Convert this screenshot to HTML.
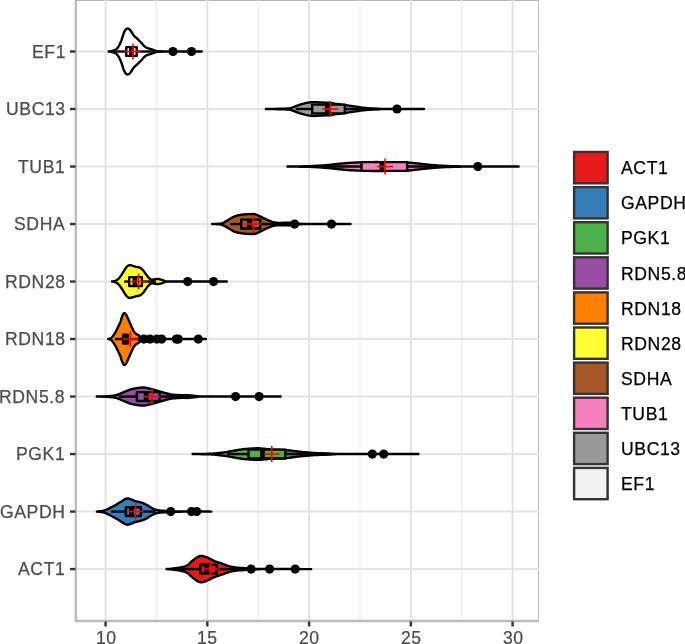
<!DOCTYPE html>
<html><head><meta charset="utf-8">
<style>
html,body{margin:0;padding:0;background:#fff;}
body{width:685px;height:644px;position:relative;overflow:hidden;font-family:"Liberation Sans",sans-serif;}
.yl,.xl,.ll{will-change:transform;-webkit-text-stroke:0.25px currentColor;}
.yl{position:absolute;right:619.4px;letter-spacing:0.6px;height:20px;line-height:20px;font-size:17.6px;color:#4D4D4D;white-space:nowrap;text-align:right;}
.xl{position:absolute;top:627.8px;letter-spacing:0.6px;text-indent:0.6px;width:60px;height:20px;line-height:20px;font-size:17.6px;color:#4D4D4D;text-align:center;}
.ll{position:absolute;left:620.6px;letter-spacing:0.6px;height:20px;line-height:20px;font-size:17.6px;color:#000;white-space:nowrap;}
</style></head><body>
<svg width="685" height="644" viewBox="0 0 685 644" style="position:absolute;left:0;top:0">
<line x1="76.0" y1="0.5" x2="539.0" y2="0.5" stroke="#B8B8B8" stroke-width="1"/>
<line x1="538.5" y1="0" x2="538.5" y2="620.8" stroke="#BDBDBD" stroke-width="1"/>
<line x1="156.47" y1="0.0" x2="156.47" y2="620.8" stroke="#EBEBEB" stroke-width="1.1"/>
<line x1="258.23" y1="0.0" x2="258.23" y2="620.8" stroke="#EBEBEB" stroke-width="1.1"/>
<line x1="359.98" y1="0.0" x2="359.98" y2="620.8" stroke="#EBEBEB" stroke-width="1.1"/>
<line x1="461.73" y1="0.0" x2="461.73" y2="620.8" stroke="#EBEBEB" stroke-width="1.1"/>
<line x1="105.60" y1="0.0" x2="105.60" y2="620.8" stroke="#E2E2E2" stroke-width="2"/>
<line x1="207.35" y1="0.0" x2="207.35" y2="620.8" stroke="#E2E2E2" stroke-width="2"/>
<line x1="309.10" y1="0.0" x2="309.10" y2="620.8" stroke="#E2E2E2" stroke-width="2"/>
<line x1="410.85" y1="0.0" x2="410.85" y2="620.8" stroke="#E2E2E2" stroke-width="2"/>
<line x1="512.60" y1="0.0" x2="512.60" y2="620.8" stroke="#E2E2E2" stroke-width="2"/>
<line x1="76.0" y1="51.50" x2="539.0" y2="51.50" stroke="#E3E3E3" stroke-width="2"/>
<line x1="76.0" y1="109.01" x2="539.0" y2="109.01" stroke="#E3E3E3" stroke-width="2"/>
<line x1="76.0" y1="166.52" x2="539.0" y2="166.52" stroke="#E3E3E3" stroke-width="2"/>
<line x1="76.0" y1="224.03" x2="539.0" y2="224.03" stroke="#E3E3E3" stroke-width="2"/>
<line x1="76.0" y1="281.54" x2="539.0" y2="281.54" stroke="#E3E3E3" stroke-width="2"/>
<line x1="76.0" y1="339.05" x2="539.0" y2="339.05" stroke="#E3E3E3" stroke-width="2"/>
<line x1="76.0" y1="396.56" x2="539.0" y2="396.56" stroke="#E3E3E3" stroke-width="2"/>
<line x1="76.0" y1="454.07" x2="539.0" y2="454.07" stroke="#E3E3E3" stroke-width="2"/>
<line x1="76.0" y1="511.58" x2="539.0" y2="511.58" stroke="#E3E3E3" stroke-width="2"/>
<line x1="76.0" y1="569.09" x2="539.0" y2="569.09" stroke="#E3E3E3" stroke-width="2"/>
<line x1="75.8" y1="0" x2="75.8" y2="622" stroke="#BABABA" stroke-width="2.3"/>
<line x1="74.7" y1="621" x2="539" y2="621" stroke="#BABABA" stroke-width="2.3"/>
<line x1="70" y1="51.50" x2="75.5" y2="51.50" stroke="#333333" stroke-width="2.4"/>
<line x1="70" y1="109.01" x2="75.5" y2="109.01" stroke="#333333" stroke-width="2.4"/>
<line x1="70" y1="166.52" x2="75.5" y2="166.52" stroke="#333333" stroke-width="2.4"/>
<line x1="70" y1="224.03" x2="75.5" y2="224.03" stroke="#333333" stroke-width="2.4"/>
<line x1="70" y1="281.54" x2="75.5" y2="281.54" stroke="#333333" stroke-width="2.4"/>
<line x1="70" y1="339.05" x2="75.5" y2="339.05" stroke="#333333" stroke-width="2.4"/>
<line x1="70" y1="396.56" x2="75.5" y2="396.56" stroke="#333333" stroke-width="2.4"/>
<line x1="70" y1="454.07" x2="75.5" y2="454.07" stroke="#333333" stroke-width="2.4"/>
<line x1="70" y1="511.58" x2="75.5" y2="511.58" stroke="#333333" stroke-width="2.4"/>
<line x1="70" y1="569.09" x2="75.5" y2="569.09" stroke="#333333" stroke-width="2.4"/>
<line x1="105.60" y1="621.5" x2="105.60" y2="626.5" stroke="#333333" stroke-width="2.4"/>
<line x1="207.35" y1="621.5" x2="207.35" y2="626.5" stroke="#333333" stroke-width="2.4"/>
<line x1="309.10" y1="621.5" x2="309.10" y2="626.5" stroke="#333333" stroke-width="2.4"/>
<line x1="410.85" y1="621.5" x2="410.85" y2="626.5" stroke="#333333" stroke-width="2.4"/>
<line x1="512.60" y1="621.5" x2="512.60" y2="626.5" stroke="#333333" stroke-width="2.4"/>
<path d="M108.60,51.50 L108.89,51.46 L109.27,51.41 L109.72,51.36 L110.23,51.29 L110.76,51.22 L111.30,51.13 L111.82,51.02 L112.30,50.90 L112.76,50.77 L113.23,50.62 L113.70,50.46 L114.17,50.29 L114.63,50.10 L115.07,49.89 L115.50,49.66 L115.90,49.40 L116.28,49.11 L116.63,48.81 L116.97,48.48 L117.29,48.13 L117.60,47.76 L117.90,47.36 L118.20,46.94 L118.50,46.50 L118.80,46.03 L119.09,45.52 L119.37,44.99 L119.65,44.44 L119.92,43.87 L120.19,43.28 L120.45,42.69 L120.70,42.10 L120.94,41.50 L121.18,40.87 L121.40,40.24 L121.63,39.59 L121.84,38.94 L122.06,38.29 L122.28,37.64 L122.50,37.00 L122.72,36.35 L122.95,35.67 L123.17,34.98 L123.39,34.30 L123.62,33.64 L123.84,33.01 L124.07,32.42 L124.30,31.90 L124.53,31.43 L124.77,31.01 L125.01,30.62 L125.25,30.27 L125.49,29.95 L125.73,29.67 L125.97,29.42 L126.20,29.20 L126.43,29.01 L126.65,28.85 L126.86,28.73 L127.08,28.64 L127.30,28.58 L127.52,28.55 L127.76,28.56 L128.00,28.60 L128.26,28.67 L128.52,28.79 L128.80,28.93 L129.07,29.11 L129.36,29.31 L129.64,29.55 L129.92,29.81 L130.20,30.10 L130.48,30.43 L130.76,30.82 L131.04,31.24 L131.32,31.69 L131.60,32.14 L131.88,32.59 L132.14,33.01 L132.40,33.40 L132.63,33.75 L132.84,34.06 L133.03,34.36 L133.21,34.65 L133.41,34.94 L133.63,35.24 L133.89,35.55 L134.20,35.90 L134.56,36.27 L134.97,36.66 L135.41,37.06 L135.88,37.48 L136.36,37.90 L136.85,38.33 L137.33,38.76 L137.80,39.20 L138.26,39.65 L138.74,40.11 L139.22,40.58 L139.69,41.05 L140.17,41.52 L140.63,41.99 L141.08,42.45 L141.50,42.90 L141.90,43.34 L142.28,43.79 L142.65,44.23 L143.00,44.67 L143.35,45.09 L143.69,45.49 L144.04,45.86 L144.40,46.20 L144.76,46.50 L145.11,46.77 L145.45,47.02 L145.80,47.24 L146.15,47.44 L146.52,47.63 L146.90,47.82 L147.30,48.00 L147.72,48.17 L148.16,48.32 L148.62,48.45 L149.08,48.58 L149.56,48.70 L150.04,48.82 L150.52,48.95 L151.00,49.10 L151.48,49.26 L151.96,49.44 L152.43,49.63 L152.92,49.82 L153.41,50.01 L153.92,50.19 L154.45,50.35 L155.00,50.50 L155.33,50.63 L155.32,50.76 L155.18,50.87 L155.14,50.98 L155.39,51.07 L156.14,51.16 L157.61,51.23 L160.00,51.30 L163.75,51.36 L168.84,51.40 L174.82,51.43 L181.21,51.45 L187.57,51.47 L193.43,51.48 L198.32,51.49 L201.80,51.50 L201.80,51.50 L198.32,51.51 L193.43,51.52 L187.57,51.53 L181.21,51.55 L174.82,51.57 L168.84,51.60 L163.75,51.64 L160.00,51.70 L157.61,51.77 L156.14,51.84 L155.39,51.93 L155.14,52.02 L155.18,52.13 L155.32,52.24 L155.33,52.37 L155.00,52.50 L154.45,52.65 L153.92,52.81 L153.41,52.99 L152.92,53.18 L152.43,53.37 L151.96,53.56 L151.48,53.74 L151.00,53.90 L150.52,54.05 L150.04,54.18 L149.56,54.30 L149.08,54.42 L148.62,54.55 L148.16,54.68 L147.72,54.83 L147.30,55.00 L146.90,55.18 L146.52,55.37 L146.15,55.56 L145.80,55.76 L145.45,55.98 L145.11,56.23 L144.76,56.50 L144.40,56.80 L144.04,57.14 L143.69,57.51 L143.35,57.91 L143.00,58.33 L142.65,58.77 L142.28,59.21 L141.90,59.66 L141.50,60.10 L141.08,60.55 L140.63,61.01 L140.17,61.48 L139.69,61.95 L139.22,62.42 L138.74,62.89 L138.26,63.35 L137.80,63.80 L137.33,64.24 L136.85,64.67 L136.36,65.10 L135.88,65.53 L135.41,65.94 L134.97,66.34 L134.56,66.73 L134.20,67.10 L133.89,67.45 L133.63,67.76 L133.41,68.06 L133.21,68.35 L133.03,68.64 L132.84,68.94 L132.63,69.25 L132.40,69.60 L132.14,69.99 L131.88,70.41 L131.60,70.86 L131.32,71.31 L131.04,71.76 L130.76,72.18 L130.48,72.57 L130.20,72.90 L129.92,73.19 L129.64,73.45 L129.36,73.69 L129.07,73.89 L128.80,74.07 L128.52,74.21 L128.26,74.33 L128.00,74.40 L127.76,74.44 L127.52,74.45 L127.30,74.42 L127.08,74.36 L126.86,74.27 L126.65,74.15 L126.43,73.99 L126.20,73.80 L125.97,73.58 L125.73,73.33 L125.49,73.05 L125.25,72.73 L125.01,72.38 L124.77,71.99 L124.53,71.57 L124.30,71.10 L124.07,70.58 L123.84,69.99 L123.62,69.36 L123.39,68.70 L123.17,68.02 L122.95,67.33 L122.72,66.65 L122.50,66.00 L122.28,65.36 L122.06,64.71 L121.84,64.06 L121.63,63.41 L121.40,62.76 L121.18,62.13 L120.94,61.50 L120.70,60.90 L120.45,60.31 L120.19,59.72 L119.92,59.13 L119.65,58.56 L119.37,58.01 L119.09,57.48 L118.80,56.97 L118.50,56.50 L118.20,56.06 L117.90,55.64 L117.60,55.24 L117.29,54.87 L116.97,54.52 L116.63,54.19 L116.28,53.89 L115.90,53.60 L115.50,53.34 L115.07,53.11 L114.63,52.90 L114.17,52.71 L113.70,52.54 L113.23,52.38 L112.76,52.23 L112.30,52.10 L111.82,51.98 L111.30,51.87 L110.76,51.78 L110.23,51.71 L109.72,51.64 L109.27,51.59 L108.89,51.54 L108.60,51.50 Z" fill="#FFFFFF" stroke="#000" stroke-width="2.4" stroke-linejoin="round"/>
<line x1="112" y1="51.50" x2="126.30" y2="51.50" stroke="#000" stroke-width="2.4"/>
<line x1="136.70" y1="51.50" x2="155" y2="51.50" stroke="#000" stroke-width="2.4"/>
<rect x="126.30" y="47.10" width="10.40" height="8.80" fill="#FFFFFF" stroke="#000" stroke-width="2.4" stroke-linejoin="round"/>
<line x1="131.40" y1="47.10" x2="131.40" y2="55.90" stroke="#000" stroke-width="4.8"/>
<circle cx="173.0" cy="51.50" r="4.6" fill="#000"/>
<circle cx="191.5" cy="51.50" r="4.6" fill="#000"/>
<line x1="124.90" y1="51.50" x2="140.90" y2="51.50" stroke="#FF0000" stroke-width="1.6"/>
<line x1="132.90" y1="43.50" x2="132.90" y2="59.50" stroke="#FF0000" stroke-width="1.6"/>
<path d="M265.90,109.01 L267.46,108.98 L269.64,108.95 L272.24,108.90 L275.07,108.85 L277.96,108.80 L280.70,108.74 L283.11,108.68 L285.00,108.61 L286.37,108.55 L287.39,108.50 L288.16,108.45 L288.74,108.40 L289.24,108.32 L289.72,108.23 L290.28,108.09 L291.00,107.91 L291.84,107.67 L292.71,107.38 L293.61,107.06 L294.52,106.70 L295.44,106.34 L296.36,105.98 L297.29,105.63 L298.20,105.31 L299.11,105.01 L300.02,104.70 L300.93,104.40 L301.84,104.11 L302.76,103.83 L303.67,103.57 L304.59,103.32 L305.50,103.11 L306.41,102.92 L307.32,102.75 L308.24,102.59 L309.15,102.45 L310.06,102.34 L310.98,102.24 L311.89,102.16 L312.80,102.11 L313.69,102.08 L314.56,102.09 L315.42,102.12 L316.29,102.17 L317.17,102.23 L318.09,102.29 L319.06,102.35 L320.10,102.41 L321.24,102.46 L322.48,102.51 L323.79,102.56 L325.13,102.62 L326.46,102.68 L327.74,102.75 L328.93,102.82 L330.00,102.91 L330.92,103.01 L331.71,103.12 L332.42,103.24 L333.08,103.37 L333.72,103.51 L334.40,103.64 L335.15,103.78 L336.00,103.91 L336.95,104.04 L337.97,104.17 L339.03,104.30 L340.13,104.43 L341.26,104.57 L342.41,104.71 L343.56,104.86 L344.70,105.01 L345.84,105.17 L346.99,105.34 L348.14,105.51 L349.31,105.68 L350.50,105.86 L351.71,106.05 L352.94,106.23 L354.20,106.41 L355.50,106.60 L356.85,106.80 L358.23,107.00 L359.62,107.20 L361.02,107.40 L362.41,107.59 L363.78,107.76 L365.10,107.91 L366.39,108.04 L367.67,108.15 L368.93,108.25 L370.17,108.33 L371.40,108.41 L372.61,108.48 L373.81,108.55 L375.00,108.61 L375.96,108.67 L376.59,108.72 L377.08,108.76 L377.62,108.80 L378.39,108.83 L379.59,108.86 L381.40,108.88 L384.00,108.91 L387.79,108.93 L392.76,108.95 L398.49,108.97 L404.56,108.98 L410.57,108.99 L416.09,109.00 L420.70,109.00 L424.00,109.01 L424.00,109.01 L420.70,109.02 L416.09,109.02 L410.57,109.03 L404.56,109.04 L398.49,109.05 L392.76,109.07 L387.79,109.09 L384.00,109.11 L381.40,109.14 L379.59,109.16 L378.39,109.19 L377.62,109.22 L377.08,109.26 L376.59,109.30 L375.96,109.35 L375.00,109.41 L373.81,109.47 L372.61,109.54 L371.40,109.61 L370.17,109.68 L368.93,109.77 L367.67,109.87 L366.39,109.98 L365.10,110.11 L363.78,110.26 L362.41,110.43 L361.02,110.62 L359.62,110.82 L358.23,111.02 L356.85,111.22 L355.50,111.42 L354.20,111.61 L352.94,111.79 L351.71,111.97 L350.50,112.16 L349.31,112.33 L348.14,112.51 L346.99,112.68 L345.84,112.85 L344.70,113.01 L343.56,113.16 L342.41,113.31 L341.26,113.45 L340.13,113.58 L339.03,113.72 L337.97,113.85 L336.95,113.98 L336.00,114.11 L335.15,114.24 L334.40,114.38 L333.72,114.51 L333.08,114.65 L332.42,114.78 L331.71,114.90 L330.92,115.01 L330.00,115.11 L328.93,115.20 L327.74,115.27 L326.46,115.34 L325.13,115.40 L323.79,115.46 L322.48,115.51 L321.24,115.56 L320.10,115.61 L319.06,115.67 L318.09,115.73 L317.17,115.79 L316.29,115.85 L315.42,115.90 L314.56,115.93 L313.69,115.94 L312.80,115.91 L311.89,115.86 L310.98,115.78 L310.06,115.68 L309.15,115.57 L308.24,115.43 L307.32,115.27 L306.41,115.10 L305.50,114.91 L304.59,114.70 L303.67,114.45 L302.76,114.19 L301.84,113.91 L300.93,113.62 L300.02,113.32 L299.11,113.01 L298.20,112.71 L297.29,112.39 L296.36,112.04 L295.44,111.68 L294.52,111.32 L293.61,110.96 L292.71,110.64 L291.84,110.35 L291.00,110.11 L290.28,109.93 L289.72,109.79 L289.24,109.70 L288.74,109.62 L288.16,109.57 L287.39,109.52 L286.37,109.47 L285.00,109.41 L283.11,109.34 L280.70,109.28 L277.96,109.22 L275.07,109.17 L272.24,109.12 L269.64,109.07 L267.46,109.04 L265.90,109.01 Z" fill="#999999" stroke="#000" stroke-width="2.4" stroke-linejoin="round"/>
<line x1="295.7" y1="109.01" x2="312.20" y2="109.01" stroke="#000" stroke-width="2.4"/>
<line x1="344.80" y1="109.01" x2="380" y2="109.01" stroke="#000" stroke-width="2.4"/>
<rect x="312.20" y="104.61" width="32.60" height="8.80" fill="#999999" stroke="#000" stroke-width="2.4" stroke-linejoin="round"/>
<line x1="327.30" y1="104.61" x2="327.30" y2="113.41" stroke="#000" stroke-width="4.8"/>
<circle cx="397.0" cy="109.01" r="4.6" fill="#000"/>
<line x1="322.40" y1="109.01" x2="338.40" y2="109.01" stroke="#FF0000" stroke-width="1.6"/>
<line x1="330.40" y1="101.01" x2="330.40" y2="117.01" stroke="#FF0000" stroke-width="1.6"/>
<path d="M287.40,166.52 L289.18,166.49 L291.58,166.46 L294.44,166.43 L297.61,166.39 L300.91,166.34 L304.18,166.28 L307.26,166.21 L310.00,166.12 L312.46,166.02 L314.84,165.90 L317.13,165.77 L319.34,165.63 L321.48,165.49 L323.55,165.33 L325.56,165.18 L327.50,165.02 L329.35,164.86 L331.08,164.68 L332.73,164.50 L334.32,164.31 L335.87,164.13 L337.42,163.95 L338.99,163.78 L340.60,163.62 L342.22,163.47 L343.82,163.33 L345.41,163.19 L347.01,163.06 L348.63,162.94 L350.29,162.83 L352.01,162.72 L353.80,162.62 L355.69,162.53 L357.67,162.45 L359.71,162.37 L361.79,162.31 L363.88,162.25 L365.96,162.20 L368.01,162.16 L370.00,162.12 L371.95,162.09 L373.88,162.08 L375.80,162.07 L377.70,162.07 L379.57,162.08 L381.42,162.09 L383.23,162.10 L385.00,162.12 L386.74,162.14 L388.46,162.18 L390.15,162.22 L391.81,162.26 L393.43,162.31 L395.01,162.35 L396.53,162.39 L398.00,162.42 L399.39,162.44 L400.71,162.44 L401.97,162.43 L403.19,162.43 L404.38,162.43 L405.57,162.44 L406.77,162.47 L408.00,162.52 L409.26,162.60 L410.52,162.71 L411.79,162.83 L413.06,162.96 L414.32,163.11 L415.57,163.25 L416.80,163.39 L418.00,163.52 L419.14,163.64 L420.20,163.77 L421.23,163.89 L422.25,164.01 L423.30,164.13 L424.42,164.26 L425.64,164.39 L427.00,164.52 L428.50,164.67 L430.12,164.82 L431.83,164.99 L433.61,165.15 L435.44,165.31 L437.29,165.46 L439.15,165.60 L441.00,165.72 L442.86,165.82 L444.77,165.90 L446.71,165.97 L448.67,166.03 L450.62,166.08 L452.56,166.13 L454.46,166.17 L456.30,166.22 L457.85,166.27 L459.02,166.32 L460.02,166.36 L461.07,166.40 L462.38,166.44 L464.16,166.47 L466.63,166.50 L470.00,166.52 L474.74,166.52 L480.84,166.52 L487.80,166.52 L495.16,166.52 L502.40,166.52 L509.05,166.52 L514.61,166.52 L518.60,166.52 L518.60,166.52 L514.61,166.52 L509.05,166.52 L502.40,166.52 L495.16,166.52 L487.80,166.52 L480.84,166.52 L474.74,166.52 L470.00,166.52 L466.63,166.54 L464.16,166.57 L462.38,166.60 L461.07,166.64 L460.02,166.68 L459.02,166.72 L457.85,166.77 L456.30,166.82 L454.46,166.87 L452.56,166.91 L450.62,166.96 L448.67,167.01 L446.71,167.07 L444.77,167.14 L442.86,167.22 L441.00,167.32 L439.15,167.44 L437.29,167.58 L435.44,167.73 L433.61,167.89 L431.83,168.05 L430.12,168.22 L428.50,168.37 L427.00,168.52 L425.64,168.65 L424.42,168.78 L423.30,168.91 L422.25,169.03 L421.23,169.15 L420.20,169.27 L419.14,169.40 L418.00,169.52 L416.80,169.65 L415.57,169.79 L414.32,169.93 L413.06,170.08 L411.79,170.21 L410.52,170.33 L409.26,170.44 L408.00,170.52 L406.77,170.57 L405.57,170.60 L404.38,170.61 L403.19,170.61 L401.97,170.61 L400.71,170.60 L399.39,170.60 L398.00,170.62 L396.53,170.65 L395.01,170.69 L393.43,170.73 L391.81,170.78 L390.15,170.82 L388.46,170.86 L386.74,170.90 L385.00,170.92 L383.23,170.94 L381.42,170.95 L379.57,170.96 L377.70,170.97 L375.80,170.97 L373.88,170.96 L371.95,170.95 L370.00,170.92 L368.01,170.88 L365.96,170.84 L363.88,170.79 L361.79,170.73 L359.71,170.67 L357.67,170.59 L355.69,170.51 L353.80,170.42 L352.01,170.32 L350.29,170.21 L348.63,170.10 L347.01,169.98 L345.41,169.85 L343.82,169.71 L342.22,169.57 L340.60,169.42 L338.99,169.26 L337.42,169.09 L335.87,168.91 L334.32,168.73 L332.73,168.54 L331.08,168.36 L329.35,168.18 L327.50,168.02 L325.56,167.86 L323.55,167.71 L321.48,167.55 L319.34,167.41 L317.13,167.27 L314.84,167.14 L312.46,167.02 L310.00,166.92 L307.26,166.83 L304.18,166.76 L300.91,166.70 L297.61,166.65 L294.44,166.61 L291.58,166.58 L289.18,166.55 L287.40,166.52 Z" fill="#F781BF" stroke="#000" stroke-width="2.4" stroke-linejoin="round"/>
<line x1="322" y1="166.52" x2="361.50" y2="166.52" stroke="#000" stroke-width="2.4"/>
<line x1="407.10" y1="166.52" x2="445" y2="166.52" stroke="#000" stroke-width="2.4"/>
<rect x="361.50" y="162.12" width="45.60" height="8.80" fill="#F781BF" stroke="#000" stroke-width="2.4" stroke-linejoin="round"/>
<line x1="382.00" y1="162.12" x2="382.00" y2="170.92" stroke="#000" stroke-width="4.8"/>
<circle cx="477.8" cy="166.52" r="4.6" fill="#000"/>
<line x1="377.10" y1="166.52" x2="393.10" y2="166.52" stroke="#FF0000" stroke-width="1.6"/>
<line x1="385.10" y1="158.52" x2="385.10" y2="174.52" stroke="#FF0000" stroke-width="1.6"/>
<path d="M212.10,224.03 L212.48,224.02 L212.98,224.00 L213.58,223.98 L214.25,223.96 L214.95,223.94 L215.67,223.91 L216.36,223.87 L217.00,223.83 L217.60,223.80 L218.20,223.78 L218.79,223.76 L219.39,223.73 L219.98,223.68 L220.58,223.61 L221.19,223.50 L221.80,223.33 L222.43,223.10 L223.09,222.82 L223.76,222.49 L224.43,222.14 L225.08,221.77 L225.72,221.40 L226.33,221.05 L226.90,220.73 L227.42,220.43 L227.90,220.15 L228.36,219.87 L228.79,219.59 L229.21,219.32 L229.63,219.06 L230.06,218.79 L230.50,218.53 L230.95,218.27 L231.39,218.00 L231.82,217.74 L232.26,217.48 L232.71,217.23 L233.17,216.98 L233.67,216.75 L234.20,216.53 L234.77,216.32 L235.36,216.12 L235.98,215.93 L236.62,215.75 L237.27,215.58 L237.94,215.42 L238.62,215.27 L239.30,215.13 L240.00,215.00 L240.72,214.87 L241.46,214.76 L242.21,214.66 L242.96,214.56 L243.70,214.47 L244.41,214.40 L245.10,214.33 L245.75,214.27 L246.39,214.23 L247.00,214.20 L247.60,214.17 L248.19,214.16 L248.79,214.14 L249.39,214.14 L250.00,214.13 L250.62,214.12 L251.25,214.09 L251.89,214.07 L252.52,214.05 L253.15,214.05 L253.78,214.07 L254.39,214.13 L255.00,214.23 L255.59,214.37 L256.15,214.56 L256.70,214.77 L257.25,215.00 L257.80,215.27 L258.38,215.54 L258.97,215.83 L259.60,216.13 L260.27,216.45 L260.98,216.80 L261.72,217.18 L262.47,217.56 L263.22,217.95 L263.97,218.33 L264.70,218.69 L265.40,219.03 L266.07,219.34 L266.72,219.65 L267.36,219.94 L267.99,220.22 L268.61,220.49 L269.23,220.75 L269.86,221.00 L270.50,221.23 L271.14,221.45 L271.78,221.66 L272.42,221.87 L273.06,222.06 L273.70,222.23 L274.36,222.38 L275.02,222.52 L275.70,222.63 L276.39,222.72 L277.07,222.77 L277.77,222.81 L278.47,222.83 L279.19,222.84 L279.93,222.84 L280.70,222.83 L281.50,222.83 L282.36,222.82 L283.27,222.80 L284.22,222.77 L285.19,222.73 L286.15,222.69 L287.09,222.66 L287.98,222.64 L288.80,222.63 L289.55,222.63 L290.23,222.64 L290.87,222.64 L291.48,222.66 L292.08,222.69 L292.69,222.72 L293.33,222.77 L294.00,222.83 L294.68,222.91 L295.35,223.02 L296.02,223.14 L296.70,223.27 L297.42,223.41 L298.20,223.53 L299.05,223.64 L300.00,223.73 L300.85,223.80 L301.50,223.85 L302.12,223.90 L302.84,223.94 L303.84,223.97 L305.26,223.99 L307.26,224.01 L310.00,224.03 L313.88,224.03 L318.93,224.03 L324.73,224.03 L330.88,224.03 L336.94,224.03 L342.51,224.03 L347.17,224.03 L350.50,224.03 L350.50,224.03 L347.17,224.03 L342.51,224.03 L336.94,224.03 L330.88,224.03 L324.73,224.03 L318.93,224.03 L313.88,224.03 L310.00,224.03 L307.26,224.05 L305.26,224.07 L303.84,224.09 L302.84,224.12 L302.12,224.16 L301.50,224.21 L300.85,224.26 L300.00,224.33 L299.05,224.42 L298.20,224.53 L297.42,224.65 L296.70,224.79 L296.02,224.92 L295.35,225.04 L294.68,225.15 L294.00,225.23 L293.33,225.29 L292.69,225.34 L292.08,225.37 L291.48,225.40 L290.87,225.42 L290.23,225.42 L289.55,225.43 L288.80,225.43 L287.98,225.42 L287.09,225.40 L286.15,225.37 L285.19,225.33 L284.22,225.29 L283.27,225.26 L282.36,225.24 L281.50,225.23 L280.70,225.23 L279.93,225.22 L279.19,225.22 L278.47,225.23 L277.77,225.25 L277.07,225.29 L276.39,225.34 L275.70,225.43 L275.02,225.54 L274.36,225.68 L273.70,225.83 L273.06,226.00 L272.42,226.19 L271.78,226.40 L271.14,226.61 L270.50,226.83 L269.86,227.06 L269.23,227.31 L268.61,227.57 L267.99,227.84 L267.36,228.12 L266.72,228.41 L266.07,228.72 L265.40,229.03 L264.70,229.37 L263.97,229.73 L263.22,230.11 L262.47,230.50 L261.72,230.88 L260.98,231.26 L260.27,231.61 L259.60,231.93 L258.97,232.23 L258.38,232.52 L257.80,232.79 L257.25,233.06 L256.70,233.29 L256.15,233.50 L255.59,233.69 L255.00,233.83 L254.39,233.93 L253.78,233.99 L253.15,234.01 L252.52,234.01 L251.89,233.99 L251.25,233.97 L250.62,233.94 L250.00,233.93 L249.39,233.92 L248.79,233.92 L248.19,233.90 L247.60,233.89 L247.00,233.86 L246.39,233.83 L245.75,233.79 L245.10,233.73 L244.41,233.66 L243.70,233.59 L242.96,233.50 L242.21,233.41 L241.46,233.30 L240.72,233.19 L240.00,233.06 L239.30,232.93 L238.62,232.79 L237.94,232.64 L237.27,232.48 L236.62,232.31 L235.98,232.13 L235.36,231.94 L234.77,231.74 L234.20,231.53 L233.67,231.31 L233.17,231.08 L232.71,230.83 L232.26,230.58 L231.82,230.32 L231.39,230.06 L230.95,229.79 L230.50,229.53 L230.06,229.27 L229.63,229.00 L229.21,228.74 L228.79,228.47 L228.36,228.19 L227.90,227.91 L227.42,227.63 L226.90,227.33 L226.33,227.01 L225.72,226.66 L225.08,226.29 L224.43,225.92 L223.76,225.57 L223.09,225.24 L222.43,224.96 L221.80,224.73 L221.19,224.56 L220.58,224.45 L219.98,224.38 L219.39,224.33 L218.79,224.30 L218.20,224.28 L217.60,224.26 L217.00,224.23 L216.36,224.19 L215.67,224.15 L214.95,224.12 L214.25,224.10 L213.58,224.08 L212.98,224.06 L212.48,224.04 L212.10,224.03 Z" fill="#A65628" stroke="#000" stroke-width="2.4" stroke-linejoin="round"/>
<line x1="230.2" y1="224.03" x2="241.20" y2="224.03" stroke="#000" stroke-width="2.4"/>
<line x1="260.20" y1="224.03" x2="290" y2="224.03" stroke="#000" stroke-width="2.4"/>
<rect x="241.20" y="219.63" width="19.00" height="8.80" fill="#A65628" stroke="#000" stroke-width="2.4" stroke-linejoin="round"/>
<line x1="249.70" y1="219.63" x2="249.70" y2="228.43" stroke="#000" stroke-width="4.8"/>
<circle cx="294.6" cy="224.03" r="4.6" fill="#000"/>
<circle cx="331.5" cy="224.03" r="4.6" fill="#000"/>
<line x1="245.40" y1="224.03" x2="261.40" y2="224.03" stroke="#FF0000" stroke-width="1.6"/>
<line x1="253.40" y1="216.03" x2="253.40" y2="232.03" stroke="#FF0000" stroke-width="1.6"/>
<path d="M112.00,281.54 L112.26,281.49 L112.60,281.44 L113.01,281.38 L113.47,281.30 L113.95,281.21 L114.43,281.11 L114.88,280.98 L115.30,280.84 L115.69,280.67 L116.07,280.49 L116.45,280.28 L116.82,280.06 L117.18,279.82 L117.53,279.57 L117.87,279.31 L118.20,279.04 L118.51,278.76 L118.80,278.46 L119.08,278.15 L119.34,277.83 L119.61,277.50 L119.87,277.16 L120.13,276.80 L120.40,276.44 L120.68,276.06 L120.95,275.67 L121.23,275.27 L121.50,274.85 L121.78,274.43 L122.05,274.00 L122.33,273.57 L122.60,273.14 L122.88,272.70 L123.15,272.24 L123.42,271.78 L123.70,271.31 L123.97,270.85 L124.25,270.40 L124.52,269.96 L124.80,269.54 L125.07,269.13 L125.34,268.73 L125.61,268.34 L125.88,267.96 L126.15,267.59 L126.43,267.25 L126.71,266.93 L127.00,266.64 L127.29,266.37 L127.59,266.11 L127.88,265.88 L128.18,265.66 L128.49,265.48 L128.81,265.33 L129.15,265.21 L129.50,265.14 L129.87,265.12 L130.26,265.15 L130.66,265.22 L131.07,265.33 L131.50,265.45 L131.93,265.59 L132.36,265.72 L132.80,265.84 L133.24,265.96 L133.70,266.09 L134.16,266.24 L134.63,266.38 L135.10,266.53 L135.57,266.68 L136.04,266.81 L136.50,266.94 L136.96,267.04 L137.42,267.12 L137.89,267.19 L138.35,267.25 L138.81,267.33 L139.25,267.43 L139.68,267.56 L140.10,267.74 L140.50,267.96 L140.87,268.21 L141.23,268.49 L141.59,268.79 L141.94,269.12 L142.28,269.47 L142.64,269.84 L143.00,270.24 L143.37,270.67 L143.75,271.14 L144.12,271.64 L144.50,272.16 L144.88,272.70 L145.25,273.23 L145.63,273.74 L146.00,274.24 L146.37,274.73 L146.73,275.23 L147.09,275.73 L147.46,276.23 L147.82,276.70 L148.18,277.16 L148.54,277.57 L148.90,277.94 L149.26,278.27 L149.62,278.58 L149.99,278.85 L150.35,279.10 L150.71,279.31 L151.08,279.49 L151.44,279.63 L151.80,279.74 L152.16,279.79 L152.51,279.79 L152.85,279.75 L153.20,279.67 L153.55,279.58 L153.92,279.48 L154.30,279.40 L154.70,279.34 L155.12,279.29 L155.55,279.23 L156.00,279.16 L156.46,279.10 L156.93,279.05 L157.41,279.01 L157.90,279.01 L158.40,279.04 L158.92,279.11 L159.47,279.21 L160.04,279.34 L160.61,279.49 L161.19,279.65 L161.75,279.82 L162.29,279.98 L162.80,280.14 L163.25,280.30 L163.62,280.48 L163.95,280.67 L164.28,280.85 L164.65,281.03 L165.08,281.19 L165.62,281.33 L166.30,281.44 L166.84,281.51 L167.10,281.54 L167.29,281.54 L167.63,281.54 L168.35,281.54 L169.67,281.54 L171.81,281.54 L175.00,281.54 L179.77,281.54 L186.13,281.54 L193.54,281.54 L201.44,281.54 L209.27,281.54 L216.48,281.54 L222.51,281.54 L226.80,281.54 L226.80,281.54 L222.51,281.54 L216.48,281.54 L209.27,281.54 L201.44,281.54 L193.54,281.54 L186.13,281.54 L179.77,281.54 L175.00,281.54 L171.81,281.54 L169.67,281.54 L168.35,281.54 L167.63,281.54 L167.29,281.54 L167.10,281.54 L166.84,281.57 L166.30,281.64 L165.62,281.75 L165.08,281.89 L164.65,282.05 L164.28,282.23 L163.95,282.41 L163.62,282.60 L163.25,282.78 L162.80,282.94 L162.29,283.10 L161.75,283.26 L161.19,283.43 L160.61,283.59 L160.04,283.74 L159.47,283.87 L158.92,283.97 L158.40,284.04 L157.90,284.07 L157.41,284.07 L156.93,284.03 L156.46,283.98 L156.00,283.92 L155.55,283.85 L155.12,283.79 L154.70,283.74 L154.30,283.68 L153.92,283.60 L153.55,283.50 L153.20,283.41 L152.85,283.33 L152.51,283.29 L152.16,283.29 L151.80,283.34 L151.44,283.45 L151.08,283.59 L150.71,283.77 L150.35,283.98 L149.99,284.23 L149.62,284.50 L149.26,284.81 L148.90,285.14 L148.54,285.51 L148.18,285.92 L147.82,286.38 L147.46,286.85 L147.09,287.35 L146.73,287.85 L146.37,288.35 L146.00,288.84 L145.63,289.34 L145.25,289.85 L144.88,290.38 L144.50,290.91 L144.12,291.44 L143.75,291.94 L143.37,292.41 L143.00,292.84 L142.64,293.24 L142.28,293.61 L141.94,293.96 L141.59,294.29 L141.23,294.59 L140.87,294.87 L140.50,295.12 L140.10,295.34 L139.68,295.52 L139.25,295.65 L138.81,295.75 L138.35,295.83 L137.89,295.89 L137.42,295.96 L136.96,296.04 L136.50,296.14 L136.04,296.27 L135.57,296.40 L135.10,296.55 L134.63,296.70 L134.16,296.84 L133.70,296.99 L133.24,297.12 L132.80,297.24 L132.36,297.36 L131.93,297.49 L131.50,297.63 L131.07,297.75 L130.66,297.86 L130.26,297.93 L129.87,297.96 L129.50,297.94 L129.15,297.87 L128.81,297.75 L128.49,297.60 L128.18,297.41 L127.88,297.20 L127.59,296.96 L127.29,296.71 L127.00,296.44 L126.71,296.15 L126.43,295.83 L126.15,295.49 L125.88,295.12 L125.61,294.74 L125.34,294.35 L125.07,293.95 L124.80,293.54 L124.52,293.12 L124.25,292.68 L123.97,292.23 L123.70,291.76 L123.42,291.30 L123.15,290.84 L122.88,290.38 L122.60,289.94 L122.33,289.51 L122.05,289.08 L121.78,288.65 L121.50,288.23 L121.23,287.81 L120.95,287.41 L120.68,287.02 L120.40,286.64 L120.13,286.28 L119.87,285.92 L119.61,285.58 L119.34,285.25 L119.08,284.93 L118.80,284.62 L118.51,284.32 L118.20,284.04 L117.87,283.77 L117.53,283.51 L117.18,283.26 L116.82,283.02 L116.45,282.80 L116.07,282.59 L115.69,282.41 L115.30,282.24 L114.88,282.10 L114.43,281.97 L113.95,281.87 L113.47,281.78 L113.01,281.70 L112.60,281.64 L112.26,281.59 L112.00,281.54 Z" fill="#FFFF33" stroke="#000" stroke-width="2.4" stroke-linejoin="round"/>
<line x1="124.1" y1="281.54" x2="129.20" y2="281.54" stroke="#000" stroke-width="2.4"/>
<line x1="141.90" y1="281.54" x2="156" y2="281.54" stroke="#000" stroke-width="2.4"/>
<rect x="129.20" y="277.14" width="12.70" height="8.80" fill="#FFFF33" stroke="#000" stroke-width="2.4" stroke-linejoin="round"/>
<line x1="134.90" y1="277.14" x2="134.90" y2="285.94" stroke="#000" stroke-width="4.8"/>
<circle cx="187.7" cy="281.54" r="4.6" fill="#000"/>
<circle cx="213.5" cy="281.54" r="4.6" fill="#000"/>
<line x1="130.50" y1="281.54" x2="146.50" y2="281.54" stroke="#FF0000" stroke-width="1.6"/>
<line x1="138.50" y1="273.54" x2="138.50" y2="289.54" stroke="#FF0000" stroke-width="1.6"/>
<path d="M108.20,339.05 L108.42,338.99 L108.71,338.93 L109.07,338.85 L109.46,338.76 L109.86,338.65 L110.27,338.52 L110.65,338.35 L111.00,338.15 L111.31,337.91 L111.61,337.65 L111.89,337.35 L112.18,337.03 L112.45,336.69 L112.73,336.32 L113.01,335.94 L113.30,335.55 L113.60,335.14 L113.90,334.71 L114.20,334.25 L114.50,333.78 L114.80,333.29 L115.10,332.79 L115.40,332.28 L115.70,331.75 L115.99,331.21 L116.28,330.65 L116.57,330.08 L116.85,329.49 L117.13,328.89 L117.42,328.28 L117.71,327.67 L118.00,327.05 L118.30,326.42 L118.61,325.79 L118.92,325.14 L119.24,324.49 L119.55,323.83 L119.85,323.17 L120.13,322.51 L120.40,321.85 L120.65,321.18 L120.88,320.48 L121.10,319.76 L121.31,319.06 L121.51,318.37 L121.71,317.71 L121.90,317.10 L122.10,316.55 L122.30,316.06 L122.51,315.60 L122.71,315.18 L122.91,314.80 L123.10,314.46 L123.28,314.15 L123.45,313.88 L123.60,313.65 L123.73,313.46 L123.83,313.32 L123.92,313.22 L124.00,313.15 L124.08,313.11 L124.17,313.11 L124.27,313.12 L124.40,313.15 L124.55,313.20 L124.73,313.27 L124.91,313.37 L125.11,313.49 L125.31,313.64 L125.51,313.81 L125.71,314.02 L125.90,314.25 L126.08,314.51 L126.26,314.79 L126.43,315.10 L126.60,315.44 L126.78,315.81 L126.97,316.21 L127.17,316.66 L127.40,317.15 L127.65,317.70 L127.92,318.31 L128.20,318.97 L128.50,319.66 L128.80,320.36 L129.11,321.08 L129.41,321.78 L129.70,322.45 L129.99,323.12 L130.29,323.80 L130.58,324.48 L130.88,325.16 L131.17,325.83 L131.46,326.47 L131.74,327.08 L132.00,327.65 L132.25,328.18 L132.48,328.67 L132.70,329.14 L132.92,329.57 L133.13,329.99 L133.35,330.39 L133.57,330.78 L133.80,331.15 L134.04,331.51 L134.27,331.84 L134.50,332.16 L134.74,332.46 L134.99,332.75 L135.25,333.03 L135.52,333.29 L135.80,333.55 L136.11,333.79 L136.43,334.01 L136.77,334.21 L137.12,334.41 L137.47,334.60 L137.82,334.80 L138.17,335.01 L138.50,335.25 L138.82,335.52 L139.13,335.81 L139.43,336.11 L139.73,336.43 L140.03,336.73 L140.34,337.03 L140.66,337.31 L141.00,337.55 L140.95,337.77 L140.33,337.97 L139.50,338.16 L138.79,338.33 L138.54,338.49 L139.10,338.63 L140.80,338.75 L144.00,338.85 L149.34,338.93 L156.78,338.98 L165.62,339.01 L175.14,339.03 L184.63,339.04 L193.40,339.04 L200.72,339.04 L205.90,339.05 L205.90,339.05 L200.72,339.06 L193.40,339.06 L184.63,339.06 L175.14,339.07 L165.62,339.09 L156.78,339.12 L149.34,339.17 L144.00,339.25 L140.80,339.35 L139.10,339.47 L138.54,339.61 L138.79,339.77 L139.50,339.94 L140.33,340.13 L140.95,340.33 L141.00,340.55 L140.66,340.79 L140.34,341.07 L140.03,341.37 L139.73,341.68 L139.43,341.99 L139.13,342.29 L138.82,342.58 L138.50,342.85 L138.17,343.09 L137.82,343.30 L137.47,343.50 L137.12,343.69 L136.77,343.89 L136.43,344.09 L136.11,344.31 L135.80,344.55 L135.52,344.81 L135.25,345.07 L134.99,345.35 L134.74,345.64 L134.50,345.94 L134.27,346.26 L134.04,346.59 L133.80,346.95 L133.57,347.32 L133.35,347.71 L133.13,348.11 L132.92,348.53 L132.70,348.96 L132.48,349.43 L132.25,349.92 L132.00,350.45 L131.74,351.02 L131.46,351.63 L131.17,352.27 L130.88,352.94 L130.58,353.62 L130.29,354.30 L129.99,354.98 L129.70,355.65 L129.41,356.32 L129.11,357.02 L128.80,357.74 L128.50,358.44 L128.20,359.13 L127.92,359.79 L127.65,360.40 L127.40,360.95 L127.17,361.44 L126.97,361.89 L126.78,362.29 L126.60,362.66 L126.43,363.00 L126.26,363.31 L126.08,363.59 L125.90,363.85 L125.71,364.08 L125.51,364.29 L125.31,364.46 L125.11,364.61 L124.91,364.73 L124.73,364.83 L124.55,364.90 L124.40,364.95 L124.27,364.98 L124.17,364.99 L124.08,364.99 L124.00,364.95 L123.92,364.88 L123.83,364.78 L123.73,364.64 L123.60,364.45 L123.45,364.22 L123.28,363.95 L123.10,363.64 L122.91,363.30 L122.71,362.92 L122.51,362.50 L122.30,362.04 L122.10,361.55 L121.90,361.00 L121.71,360.39 L121.51,359.73 L121.31,359.04 L121.10,358.34 L120.88,357.62 L120.65,356.92 L120.40,356.25 L120.13,355.59 L119.85,354.93 L119.55,354.27 L119.24,353.61 L118.92,352.96 L118.61,352.31 L118.30,351.68 L118.00,351.05 L117.71,350.43 L117.42,349.82 L117.13,349.21 L116.85,348.61 L116.57,348.02 L116.28,347.45 L115.99,346.89 L115.70,346.35 L115.40,345.82 L115.10,345.31 L114.80,344.81 L114.50,344.32 L114.20,343.85 L113.90,343.39 L113.60,342.96 L113.30,342.55 L113.01,342.16 L112.73,341.78 L112.45,341.41 L112.18,341.07 L111.89,340.75 L111.61,340.45 L111.31,340.19 L111.00,339.95 L110.65,339.75 L110.27,339.58 L109.86,339.45 L109.46,339.34 L109.07,339.25 L108.71,339.17 L108.42,339.11 L108.20,339.05 Z" fill="#FF7F00" stroke="#000" stroke-width="2.4" stroke-linejoin="round"/>
<line x1="114.9" y1="339.05" x2="123.10" y2="339.05" stroke="#000" stroke-width="2.4"/>
<line x1="127.70" y1="339.05" x2="139" y2="339.05" stroke="#000" stroke-width="2.4"/>
<rect x="123.10" y="334.65" width="4.60" height="8.80" fill="#FF7F00" stroke="#000" stroke-width="2.4" stroke-linejoin="round"/>
<line x1="125.00" y1="334.65" x2="125.00" y2="343.45" stroke="#000" stroke-width="4.8"/>
<circle cx="143.9" cy="339.05" r="4.6" fill="#000"/>
<circle cx="150.0" cy="339.05" r="4.6" fill="#000"/>
<circle cx="156.9" cy="339.05" r="4.6" fill="#000"/>
<circle cx="161.6" cy="339.05" r="4.6" fill="#000"/>
<circle cx="176.3" cy="339.05" r="4.6" fill="#000"/>
<circle cx="178.3" cy="339.05" r="4.6" fill="#000"/>
<circle cx="198.3" cy="339.05" r="4.6" fill="#000"/>
<line x1="122.30" y1="339.05" x2="138.30" y2="339.05" stroke="#FF0000" stroke-width="1.6"/>
<line x1="130.30" y1="331.05" x2="130.30" y2="347.05" stroke="#FF0000" stroke-width="1.6"/>
<path d="M96.80,396.56 L97.44,396.55 L98.30,396.53 L99.33,396.51 L100.46,396.49 L101.65,396.47 L102.84,396.44 L103.98,396.40 L105.00,396.36 L105.95,396.31 L106.90,396.26 L107.84,396.20 L108.76,396.14 L109.65,396.08 L110.49,396.01 L111.28,395.93 L112.00,395.86 L112.65,395.79 L113.22,395.71 L113.74,395.63 L114.22,395.55 L114.67,395.47 L115.11,395.37 L115.54,395.27 L116.00,395.16 L116.46,395.04 L116.91,394.90 L117.34,394.76 L117.77,394.62 L118.19,394.46 L118.62,394.30 L119.06,394.13 L119.50,393.96 L119.93,393.79 L120.33,393.62 L120.71,393.45 L121.11,393.27 L121.54,393.07 L122.02,392.86 L122.56,392.62 L123.20,392.36 L123.94,392.05 L124.77,391.69 L125.67,391.31 L126.62,390.90 L127.60,390.50 L128.59,390.12 L129.56,389.76 L130.50,389.46 L131.43,389.20 L132.40,388.96 L133.37,388.75 L134.34,388.55 L135.29,388.38 L136.19,388.22 L137.04,388.09 L137.80,387.96 L138.48,387.85 L139.09,387.77 L139.65,387.71 L140.16,387.66 L140.64,387.63 L141.10,387.60 L141.55,387.58 L142.00,387.56 L142.40,387.54 L142.72,387.51 L143.00,387.48 L143.27,387.46 L143.58,387.46 L143.96,387.49 L144.45,387.55 L145.10,387.66 L145.92,387.81 L146.88,388.01 L147.95,388.24 L149.10,388.50 L150.29,388.78 L151.49,389.07 L152.67,389.37 L153.80,389.66 L154.89,389.96 L155.97,390.28 L157.06,390.61 L158.14,390.95 L159.23,391.29 L160.32,391.62 L161.41,391.95 L162.50,392.26 L163.60,392.56 L164.70,392.87 L165.80,393.18 L166.90,393.48 L168.00,393.76 L169.10,394.02 L170.20,394.26 L171.30,394.46 L172.39,394.62 L173.48,394.75 L174.57,394.86 L175.65,394.94 L176.73,395.01 L177.82,395.06 L178.91,395.11 L180.00,395.16 L181.10,395.20 L182.20,395.21 L183.30,395.21 L184.40,395.20 L185.50,395.19 L186.60,395.19 L187.70,395.21 L188.80,395.26 L189.90,395.34 L191.01,395.44 L192.12,395.56 L193.23,395.69 L194.33,395.82 L195.41,395.95 L196.47,396.07 L197.50,396.16 L198.03,396.24 L197.86,396.30 L197.41,396.36 L197.07,396.42 L197.25,396.46 L198.36,396.50 L200.81,396.53 L205.00,396.56 L211.71,396.56 L220.88,396.56 L231.68,396.56 L243.27,396.56 L254.79,396.56 L265.42,396.56 L274.30,396.56 L280.60,396.56 L280.60,396.56 L274.30,396.56 L265.42,396.56 L254.79,396.56 L243.27,396.56 L231.68,396.56 L220.88,396.56 L211.71,396.56 L205.00,396.56 L200.81,396.59 L198.36,396.62 L197.25,396.66 L197.07,396.70 L197.41,396.76 L197.86,396.82 L198.03,396.88 L197.50,396.96 L196.47,397.05 L195.41,397.17 L194.33,397.30 L193.23,397.43 L192.12,397.56 L191.01,397.68 L189.90,397.78 L188.80,397.86 L187.70,397.91 L186.60,397.93 L185.50,397.93 L184.40,397.92 L183.30,397.91 L182.20,397.91 L181.10,397.92 L180.00,397.96 L178.91,398.01 L177.82,398.06 L176.73,398.11 L175.65,398.18 L174.57,398.26 L173.48,398.37 L172.39,398.50 L171.30,398.66 L170.20,398.86 L169.10,399.10 L168.00,399.36 L166.90,399.64 L165.80,399.94 L164.70,400.25 L163.60,400.56 L162.50,400.86 L161.41,401.17 L160.32,401.50 L159.23,401.83 L158.14,402.17 L157.06,402.51 L155.97,402.84 L154.89,403.16 L153.80,403.46 L152.67,403.75 L151.49,404.05 L150.29,404.34 L149.10,404.62 L147.95,404.88 L146.88,405.11 L145.92,405.31 L145.10,405.46 L144.45,405.57 L143.96,405.63 L143.58,405.66 L143.27,405.66 L143.00,405.64 L142.72,405.61 L142.40,405.58 L142.00,405.56 L141.55,405.54 L141.10,405.52 L140.64,405.49 L140.16,405.46 L139.65,405.41 L139.09,405.35 L138.48,405.27 L137.80,405.16 L137.04,405.03 L136.19,404.90 L135.29,404.74 L134.34,404.57 L133.37,404.37 L132.40,404.16 L131.43,403.92 L130.50,403.66 L129.56,403.36 L128.59,403.00 L127.60,402.62 L126.62,402.22 L125.67,401.81 L124.77,401.43 L123.94,401.07 L123.20,400.76 L122.56,400.50 L122.02,400.26 L121.54,400.05 L121.11,399.85 L120.71,399.67 L120.33,399.50 L119.93,399.33 L119.50,399.16 L119.06,398.99 L118.62,398.82 L118.19,398.66 L117.77,398.50 L117.34,398.36 L116.91,398.22 L116.46,398.08 L116.00,397.96 L115.54,397.85 L115.11,397.75 L114.67,397.65 L114.22,397.57 L113.74,397.49 L113.22,397.41 L112.65,397.33 L112.00,397.26 L111.28,397.19 L110.49,397.11 L109.65,397.04 L108.76,396.98 L107.84,396.92 L106.90,396.86 L105.95,396.81 L105.00,396.76 L103.98,396.72 L102.84,396.68 L101.65,396.65 L100.46,396.63 L99.33,396.61 L98.30,396.59 L97.44,396.57 L96.80,396.56 Z" fill="#984EA3" stroke="#000" stroke-width="2.4" stroke-linejoin="round"/>
<line x1="119" y1="396.56" x2="136.90" y2="396.56" stroke="#000" stroke-width="2.4"/>
<line x1="159.60" y1="396.56" x2="190" y2="396.56" stroke="#000" stroke-width="2.4"/>
<rect x="136.90" y="392.16" width="22.70" height="8.80" fill="#984EA3" stroke="#000" stroke-width="2.4" stroke-linejoin="round"/>
<line x1="146.20" y1="392.16" x2="146.20" y2="400.96" stroke="#000" stroke-width="4.8"/>
<circle cx="235.6" cy="396.56" r="4.6" fill="#000"/>
<circle cx="259.1" cy="396.56" r="4.6" fill="#000"/>
<line x1="144.00" y1="396.56" x2="160.00" y2="396.56" stroke="#FF0000" stroke-width="1.6"/>
<line x1="152.00" y1="388.56" x2="152.00" y2="404.56" stroke="#FF0000" stroke-width="1.6"/>
<path d="M192.60,454.07 L193.14,454.06 L193.82,454.06 L194.63,454.05 L195.55,454.04 L196.56,454.03 L197.65,454.01 L198.80,453.99 L200.00,453.97 L201.32,453.94 L202.83,453.91 L204.45,453.88 L206.12,453.84 L207.77,453.81 L209.35,453.76 L210.78,453.72 L212.00,453.67 L212.98,453.62 L213.75,453.57 L214.39,453.52 L214.95,453.47 L215.48,453.41 L216.05,453.34 L216.70,453.26 L217.50,453.17 L218.44,453.06 L219.47,452.95 L220.56,452.82 L221.70,452.69 L222.86,452.55 L224.03,452.39 L225.18,452.24 L226.30,452.07 L227.39,451.89 L228.48,451.70 L229.57,451.49 L230.65,451.28 L231.73,451.07 L232.82,450.86 L233.91,450.66 L235.00,450.47 L236.10,450.29 L237.20,450.11 L238.30,449.93 L239.40,449.76 L240.50,449.60 L241.60,449.45 L242.70,449.30 L243.80,449.17 L244.90,449.05 L246.01,448.94 L247.12,448.84 L248.23,448.75 L249.33,448.66 L250.41,448.59 L251.47,448.52 L252.50,448.47 L253.46,448.42 L254.34,448.37 L255.18,448.33 L256.01,448.30 L256.87,448.29 L257.80,448.29 L258.83,448.32 L260.00,448.37 L261.31,448.46 L262.74,448.59 L264.26,448.76 L265.84,448.93 L267.48,449.11 L269.15,449.29 L270.83,449.44 L272.50,449.57 L274.19,449.66 L275.93,449.72 L277.71,449.76 L279.51,449.80 L281.31,449.83 L283.08,449.88 L284.82,449.96 L286.50,450.07 L288.14,450.22 L289.78,450.41 L291.40,450.63 L292.98,450.86 L294.53,451.09 L296.02,451.31 L297.45,451.51 L298.80,451.67 L300.07,451.80 L301.26,451.91 L302.38,452.00 L303.45,452.08 L304.48,452.15 L305.49,452.22 L306.49,452.29 L307.50,452.37 L308.48,452.46 L309.40,452.55 L310.29,452.65 L311.17,452.75 L312.06,452.84 L312.98,452.92 L313.95,453.00 L315.00,453.07 L316.13,453.13 L317.32,453.17 L318.57,453.20 L319.84,453.23 L321.14,453.26 L322.44,453.29 L323.73,453.33 L325.00,453.37 L326.25,453.42 L327.50,453.49 L328.75,453.56 L330.00,453.63 L331.25,453.70 L332.50,453.76 L333.75,453.82 L335.00,453.87 L335.82,453.91 L336.01,453.95 L335.96,453.98 L336.04,454.00 L336.61,454.02 L338.04,454.04 L340.72,454.06 L345.00,454.07 L351.64,454.07 L360.61,454.07 L371.11,454.07 L382.32,454.07 L393.46,454.07 L403.72,454.07 L412.30,454.07 L418.40,454.07 L418.40,454.07 L412.30,454.07 L403.72,454.07 L393.46,454.07 L382.32,454.07 L371.11,454.07 L360.61,454.07 L351.64,454.07 L345.00,454.07 L340.72,454.08 L338.04,454.10 L336.61,454.12 L336.04,454.14 L335.96,454.16 L336.01,454.19 L335.82,454.23 L335.00,454.27 L333.75,454.32 L332.50,454.38 L331.25,454.44 L330.00,454.51 L328.75,454.58 L327.50,454.65 L326.25,454.72 L325.00,454.77 L323.73,454.81 L322.44,454.85 L321.14,454.88 L319.84,454.91 L318.57,454.94 L317.32,454.97 L316.13,455.01 L315.00,455.07 L313.95,455.14 L312.98,455.22 L312.06,455.30 L311.17,455.39 L310.29,455.49 L309.40,455.59 L308.48,455.68 L307.50,455.77 L306.49,455.85 L305.49,455.92 L304.48,455.99 L303.45,456.06 L302.38,456.14 L301.26,456.23 L300.07,456.34 L298.80,456.47 L297.45,456.63 L296.02,456.83 L294.53,457.05 L292.98,457.28 L291.40,457.51 L289.78,457.73 L288.14,457.92 L286.50,458.07 L284.82,458.18 L283.08,458.26 L281.31,458.31 L279.51,458.34 L277.71,458.38 L275.93,458.42 L274.19,458.48 L272.50,458.57 L270.83,458.70 L269.15,458.85 L267.48,459.03 L265.84,459.21 L264.26,459.38 L262.74,459.55 L261.31,459.68 L260.00,459.77 L258.83,459.82 L257.80,459.85 L256.87,459.85 L256.01,459.84 L255.18,459.81 L254.34,459.77 L253.46,459.72 L252.50,459.67 L251.47,459.62 L250.41,459.55 L249.33,459.48 L248.23,459.39 L247.12,459.30 L246.01,459.20 L244.90,459.09 L243.80,458.97 L242.70,458.84 L241.60,458.69 L240.50,458.54 L239.40,458.38 L238.30,458.21 L237.20,458.03 L236.10,457.85 L235.00,457.67 L233.91,457.48 L232.82,457.28 L231.73,457.07 L230.65,456.86 L229.57,456.65 L228.48,456.44 L227.39,456.25 L226.30,456.07 L225.18,455.90 L224.03,455.75 L222.86,455.59 L221.70,455.45 L220.56,455.32 L219.47,455.19 L218.44,455.08 L217.50,454.97 L216.70,454.88 L216.05,454.80 L215.48,454.73 L214.95,454.67 L214.39,454.62 L213.75,454.57 L212.98,454.52 L212.00,454.47 L210.78,454.42 L209.35,454.38 L207.77,454.33 L206.12,454.30 L204.45,454.26 L202.83,454.23 L201.32,454.20 L200.00,454.17 L198.80,454.15 L197.65,454.13 L196.56,454.11 L195.55,454.10 L194.63,454.09 L193.82,454.08 L193.14,454.08 L192.60,454.07 Z" fill="#4DAF4A" stroke="#000" stroke-width="2.4" stroke-linejoin="round"/>
<line x1="227.1" y1="454.07" x2="248.50" y2="454.07" stroke="#000" stroke-width="2.4"/>
<line x1="285.30" y1="454.07" x2="330" y2="454.07" stroke="#000" stroke-width="2.4"/>
<rect x="248.50" y="449.67" width="36.80" height="8.80" fill="#4DAF4A" stroke="#000" stroke-width="2.4" stroke-linejoin="round"/>
<line x1="262.50" y1="449.67" x2="262.50" y2="458.47" stroke="#000" stroke-width="4.8"/>
<circle cx="372.3" cy="454.07" r="4.6" fill="#000"/>
<circle cx="383.7" cy="454.07" r="4.6" fill="#000"/>
<line x1="263.80" y1="454.07" x2="279.80" y2="454.07" stroke="#FF0000" stroke-width="1.6"/>
<line x1="271.80" y1="446.07" x2="271.80" y2="462.07" stroke="#FF0000" stroke-width="1.6"/>
<path d="M96.90,511.58 L97.37,511.53 L98.01,511.47 L98.78,511.39 L99.62,511.31 L100.50,511.21 L101.35,511.11 L102.13,511.00 L102.80,510.88 L103.36,510.76 L103.86,510.63 L104.31,510.49 L104.74,510.35 L105.14,510.20 L105.55,510.03 L105.96,509.86 L106.40,509.68 L106.86,509.48 L107.32,509.27 L107.78,509.05 L108.25,508.82 L108.72,508.59 L109.18,508.35 L109.64,508.11 L110.10,507.88 L110.55,507.65 L111.00,507.42 L111.45,507.18 L111.90,506.95 L112.35,506.71 L112.80,506.47 L113.25,506.23 L113.70,505.98 L114.16,505.73 L114.62,505.47 L115.08,505.21 L115.55,504.95 L116.02,504.68 L116.48,504.42 L116.94,504.15 L117.40,503.88 L117.86,503.61 L118.32,503.33 L118.79,503.05 L119.25,502.77 L119.71,502.49 L120.15,502.21 L120.58,501.94 L121.00,501.68 L121.40,501.42 L121.79,501.17 L122.17,500.91 L122.54,500.66 L122.89,500.42 L123.24,500.19 L123.58,499.98 L123.90,499.78 L124.21,499.60 L124.50,499.43 L124.79,499.27 L125.06,499.12 L125.32,498.99 L125.58,498.87 L125.84,498.77 L126.10,498.68 L126.35,498.60 L126.59,498.54 L126.82,498.49 L127.04,498.45 L127.28,498.43 L127.53,498.43 L127.80,498.45 L128.10,498.48 L128.43,498.54 L128.78,498.61 L129.16,498.71 L129.54,498.82 L129.95,498.94 L130.36,499.08 L130.78,499.23 L131.20,499.38 L131.63,499.55 L132.06,499.74 L132.51,499.95 L132.96,500.17 L133.43,500.39 L133.90,500.60 L134.40,500.80 L134.90,500.98 L135.43,501.14 L135.99,501.29 L136.56,501.43 L137.14,501.56 L137.73,501.69 L138.31,501.82 L138.87,501.95 L139.40,502.08 L139.91,502.21 L140.40,502.34 L140.88,502.46 L141.35,502.59 L141.81,502.72 L142.27,502.86 L142.73,503.01 L143.20,503.18 L143.67,503.37 L144.13,503.57 L144.60,503.79 L145.06,504.01 L145.52,504.24 L145.98,504.49 L146.44,504.73 L146.90,504.98 L147.35,505.24 L147.80,505.51 L148.25,505.79 L148.70,506.07 L149.15,506.36 L149.60,506.64 L150.05,506.92 L150.50,507.18 L150.96,507.44 L151.42,507.69 L151.88,507.95 L152.35,508.20 L152.82,508.44 L153.28,508.67 L153.74,508.88 L154.20,509.08 L154.65,509.26 L155.10,509.43 L155.55,509.58 L156.00,509.72 L156.45,509.85 L156.90,509.97 L157.35,510.08 L157.80,510.18 L158.25,510.27 L158.70,510.35 L159.15,510.42 L159.59,510.49 L160.05,510.54 L160.52,510.59 L161.00,510.64 L161.50,510.68 L162.01,510.72 L162.53,510.75 L163.06,510.77 L163.61,510.79 L164.17,510.81 L164.75,510.83 L165.36,510.85 L166.00,510.88 L166.66,510.91 L167.35,510.95 L168.05,510.99 L168.78,511.02 L169.54,511.06 L170.32,511.10 L171.14,511.14 L172.00,511.18 L172.75,511.22 L173.31,511.26 L173.83,511.30 L174.42,511.34 L175.21,511.38 L176.31,511.42 L177.87,511.45 L180.00,511.48 L183.01,511.50 L186.92,511.52 L191.41,511.54 L196.15,511.55 L200.83,511.56 L205.13,511.57 L208.73,511.57 L211.30,511.58 L211.30,511.58 L208.73,511.59 L205.13,511.59 L200.83,511.60 L196.15,511.61 L191.41,511.62 L186.92,511.64 L183.01,511.66 L180.00,511.68 L177.87,511.71 L176.31,511.74 L175.21,511.78 L174.42,511.82 L173.83,511.86 L173.31,511.90 L172.75,511.94 L172.00,511.98 L171.14,512.02 L170.32,512.06 L169.54,512.10 L168.78,512.14 L168.05,512.17 L167.35,512.21 L166.66,512.25 L166.00,512.28 L165.36,512.31 L164.75,512.33 L164.17,512.35 L163.61,512.37 L163.06,512.39 L162.53,512.41 L162.01,512.44 L161.50,512.48 L161.00,512.52 L160.52,512.57 L160.05,512.62 L159.59,512.67 L159.15,512.74 L158.70,512.81 L158.25,512.89 L157.80,512.98 L157.35,513.08 L156.90,513.19 L156.45,513.31 L156.00,513.44 L155.55,513.58 L155.10,513.73 L154.65,513.90 L154.20,514.08 L153.74,514.28 L153.28,514.49 L152.82,514.72 L152.35,514.96 L151.88,515.21 L151.42,515.47 L150.96,515.72 L150.50,515.98 L150.05,516.24 L149.60,516.52 L149.15,516.80 L148.70,517.09 L148.25,517.37 L147.80,517.65 L147.35,517.92 L146.90,518.18 L146.44,518.43 L145.98,518.67 L145.52,518.92 L145.06,519.15 L144.60,519.37 L144.13,519.59 L143.67,519.79 L143.20,519.98 L142.73,520.15 L142.27,520.30 L141.81,520.44 L141.35,520.57 L140.88,520.70 L140.40,520.82 L139.91,520.95 L139.40,521.08 L138.87,521.21 L138.31,521.34 L137.73,521.47 L137.14,521.60 L136.56,521.73 L135.99,521.87 L135.43,522.02 L134.90,522.18 L134.40,522.36 L133.90,522.56 L133.43,522.77 L132.96,522.99 L132.51,523.21 L132.06,523.42 L131.63,523.61 L131.20,523.78 L130.78,523.93 L130.36,524.08 L129.95,524.22 L129.54,524.34 L129.16,524.45 L128.78,524.55 L128.43,524.62 L128.10,524.68 L127.80,524.71 L127.53,524.73 L127.28,524.73 L127.04,524.70 L126.82,524.67 L126.59,524.62 L126.35,524.56 L126.10,524.48 L125.84,524.39 L125.58,524.29 L125.32,524.17 L125.06,524.04 L124.79,523.89 L124.50,523.73 L124.21,523.56 L123.90,523.38 L123.58,523.18 L123.24,522.97 L122.89,522.74 L122.54,522.50 L122.17,522.25 L121.79,521.99 L121.40,521.74 L121.00,521.48 L120.58,521.22 L120.15,520.95 L119.71,520.67 L119.25,520.39 L118.79,520.11 L118.32,519.83 L117.86,519.55 L117.40,519.28 L116.94,519.01 L116.48,518.74 L116.02,518.48 L115.55,518.21 L115.08,517.95 L114.62,517.69 L114.16,517.43 L113.70,517.18 L113.25,516.93 L112.80,516.69 L112.35,516.45 L111.90,516.21 L111.45,515.98 L111.00,515.74 L110.55,515.51 L110.10,515.28 L109.64,515.05 L109.18,514.81 L108.72,514.57 L108.25,514.34 L107.78,514.11 L107.32,513.89 L106.86,513.68 L106.40,513.48 L105.96,513.30 L105.55,513.13 L105.14,512.96 L104.74,512.81 L104.31,512.67 L103.86,512.53 L103.36,512.40 L102.80,512.28 L102.13,512.16 L101.35,512.05 L100.50,511.95 L99.62,511.85 L98.78,511.77 L98.01,511.69 L97.37,511.63 L96.90,511.58 Z" fill="#377EB8" stroke="#000" stroke-width="2.4" stroke-linejoin="round"/>
<line x1="111.1" y1="511.58" x2="125.90" y2="511.58" stroke="#000" stroke-width="2.4"/>
<line x1="140.90" y1="511.58" x2="155.4" y2="511.58" stroke="#000" stroke-width="2.4"/>
<rect x="125.90" y="507.18" width="15.00" height="8.80" fill="#377EB8" stroke="#000" stroke-width="2.4" stroke-linejoin="round"/>
<line x1="131.50" y1="507.18" x2="131.50" y2="515.98" stroke="#000" stroke-width="4.8"/>
<circle cx="170.8" cy="511.58" r="4.6" fill="#000"/>
<circle cx="191.5" cy="511.58" r="4.6" fill="#000"/>
<circle cx="196.7" cy="511.58" r="4.6" fill="#000"/>
<line x1="127.60" y1="511.58" x2="143.60" y2="511.58" stroke="#FF0000" stroke-width="1.6"/>
<line x1="135.60" y1="503.58" x2="135.60" y2="519.58" stroke="#FF0000" stroke-width="1.6"/>
<path d="M166.50,569.09 L166.85,569.06 L167.30,569.03 L167.84,568.99 L168.44,568.95 L169.11,568.89 L169.81,568.83 L170.55,568.77 L171.30,568.69 L172.10,568.60 L172.98,568.51 L173.92,568.41 L174.89,568.30 L175.86,568.18 L176.82,568.05 L177.74,567.93 L178.60,567.79 L179.41,567.65 L180.20,567.50 L180.98,567.35 L181.73,567.20 L182.44,567.03 L183.13,566.86 L183.79,566.68 L184.40,566.49 L184.96,566.30 L185.47,566.11 L185.95,565.92 L186.39,565.72 L186.81,565.50 L187.23,565.26 L187.66,564.99 L188.10,564.69 L188.55,564.35 L189.00,563.96 L189.45,563.54 L189.90,563.11 L190.35,562.66 L190.80,562.22 L191.25,561.79 L191.70,561.39 L192.16,561.00 L192.64,560.61 L193.12,560.22 L193.59,559.85 L194.07,559.48 L194.53,559.13 L194.98,558.80 L195.40,558.49 L195.80,558.21 L196.18,557.94 L196.55,557.69 L196.90,557.46 L197.25,557.24 L197.59,557.04 L197.94,556.86 L198.30,556.69 L198.66,556.53 L199.01,556.38 L199.35,556.25 L199.70,556.13 L200.05,556.03 L200.42,555.95 L200.80,555.91 L201.20,555.89 L201.62,555.91 L202.05,555.95 L202.50,556.03 L202.96,556.13 L203.43,556.25 L203.91,556.38 L204.40,556.53 L204.90,556.69 L205.41,556.86 L205.93,557.05 L206.46,557.26 L207.00,557.48 L207.55,557.71 L208.12,557.96 L208.70,558.22 L209.30,558.49 L209.91,558.78 L210.51,559.09 L211.13,559.41 L211.77,559.75 L212.43,560.09 L213.11,560.43 L213.84,560.76 L214.60,561.09 L215.42,561.41 L216.28,561.72 L217.19,562.03 L218.12,562.34 L219.07,562.65 L220.03,562.96 L220.97,563.27 L221.90,563.59 L222.81,563.92 L223.72,564.26 L224.64,564.61 L225.55,564.96 L226.46,565.30 L227.38,565.62 L228.29,565.92 L229.20,566.19 L230.11,566.43 L231.02,566.65 L231.94,566.84 L232.85,567.02 L233.76,567.18 L234.67,567.33 L235.59,567.47 L236.50,567.59 L237.42,567.70 L238.35,567.78 L239.29,567.84 L240.22,567.90 L241.14,567.94 L242.05,567.99 L242.94,568.03 L243.80,568.09 L244.62,568.15 L245.39,568.22 L246.13,568.28 L246.86,568.35 L247.59,568.41 L248.35,568.47 L249.15,568.53 L250.00,568.59 L250.60,568.65 L250.81,568.70 L250.88,568.76 L251.06,568.82 L251.61,568.87 L252.78,568.91 L254.82,568.96 L258.00,568.99 L262.85,569.02 L269.37,569.04 L276.98,569.05 L285.10,569.07 L293.16,569.07 L300.58,569.08 L306.79,569.08 L311.20,569.09 L311.20,569.09 L306.79,569.10 L300.58,569.10 L293.16,569.11 L285.10,569.12 L276.98,569.13 L269.37,569.14 L262.85,569.16 L258.00,569.19 L254.82,569.22 L252.78,569.27 L251.61,569.31 L251.06,569.37 L250.88,569.42 L250.81,569.48 L250.60,569.53 L250.00,569.59 L249.15,569.65 L248.35,569.71 L247.59,569.77 L246.86,569.83 L246.13,569.90 L245.39,569.96 L244.62,570.03 L243.80,570.09 L242.94,570.15 L242.05,570.19 L241.14,570.24 L240.22,570.28 L239.29,570.34 L238.35,570.40 L237.42,570.48 L236.50,570.59 L235.59,570.71 L234.67,570.85 L233.76,571.00 L232.85,571.16 L231.94,571.34 L231.02,571.53 L230.11,571.75 L229.20,571.99 L228.29,572.26 L227.38,572.56 L226.46,572.88 L225.55,573.22 L224.64,573.57 L223.72,573.92 L222.81,574.26 L221.90,574.59 L220.97,574.91 L220.03,575.22 L219.07,575.53 L218.12,575.84 L217.19,576.15 L216.28,576.46 L215.42,576.77 L214.60,577.09 L213.84,577.42 L213.11,577.75 L212.43,578.09 L211.77,578.43 L211.13,578.77 L210.51,579.09 L209.91,579.40 L209.30,579.69 L208.70,579.96 L208.12,580.22 L207.55,580.47 L207.00,580.70 L206.46,580.92 L205.93,581.13 L205.41,581.32 L204.90,581.49 L204.40,581.65 L203.91,581.80 L203.43,581.93 L202.96,582.05 L202.50,582.15 L202.05,582.23 L201.62,582.27 L201.20,582.29 L200.80,582.27 L200.42,582.23 L200.05,582.15 L199.70,582.05 L199.35,581.93 L199.01,581.80 L198.66,581.65 L198.30,581.49 L197.94,581.32 L197.59,581.14 L197.25,580.94 L196.90,580.72 L196.55,580.49 L196.18,580.24 L195.80,579.97 L195.40,579.69 L194.98,579.38 L194.53,579.05 L194.07,578.70 L193.59,578.33 L193.12,577.96 L192.64,577.57 L192.16,577.18 L191.70,576.79 L191.25,576.39 L190.80,575.96 L190.35,575.52 L189.90,575.07 L189.45,574.64 L189.00,574.22 L188.55,573.83 L188.10,573.49 L187.66,573.19 L187.23,572.92 L186.81,572.68 L186.39,572.47 L185.95,572.26 L185.47,572.07 L184.96,571.88 L184.40,571.69 L183.79,571.50 L183.13,571.32 L182.44,571.15 L181.73,570.98 L180.98,570.83 L180.20,570.68 L179.41,570.53 L178.60,570.39 L177.74,570.25 L176.82,570.13 L175.86,570.00 L174.89,569.88 L173.92,569.77 L172.98,569.67 L172.10,569.58 L171.30,569.49 L170.55,569.41 L169.81,569.35 L169.11,569.29 L168.44,569.23 L167.84,569.19 L167.30,569.15 L166.85,569.12 L166.50,569.09 Z" fill="#E41A1C" stroke="#000" stroke-width="2.4" stroke-linejoin="round"/>
<line x1="179" y1="569.09" x2="200.40" y2="569.09" stroke="#000" stroke-width="2.4"/>
<line x1="216.80" y1="569.09" x2="240" y2="569.09" stroke="#000" stroke-width="2.4"/>
<rect x="200.40" y="564.69" width="16.40" height="8.80" fill="#E41A1C" stroke="#000" stroke-width="2.4" stroke-linejoin="round"/>
<line x1="206.50" y1="564.69" x2="206.50" y2="573.49" stroke="#000" stroke-width="4.8"/>
<circle cx="251.1" cy="569.09" r="4.6" fill="#000"/>
<circle cx="269.6" cy="569.09" r="4.6" fill="#000"/>
<circle cx="295.2" cy="569.09" r="4.6" fill="#000"/>
<line x1="202.60" y1="569.09" x2="218.60" y2="569.09" stroke="#FF0000" stroke-width="1.6"/>
<line x1="210.60" y1="561.09" x2="210.60" y2="577.09" stroke="#FF0000" stroke-width="1.6"/>
<rect x="574.1" y="152.00" width="33.5" height="31.3" fill="#E41A1C" stroke="#333333" stroke-width="2.4"/>
<rect x="574.1" y="187.10" width="33.5" height="31.3" fill="#377EB8" stroke="#333333" stroke-width="2.4"/>
<rect x="574.1" y="222.20" width="33.5" height="31.3" fill="#4DAF4A" stroke="#333333" stroke-width="2.4"/>
<rect x="574.1" y="257.30" width="33.5" height="31.3" fill="#984EA3" stroke="#333333" stroke-width="2.4"/>
<rect x="574.1" y="292.40" width="33.5" height="31.3" fill="#FF7F00" stroke="#333333" stroke-width="2.4"/>
<rect x="574.1" y="327.50" width="33.5" height="31.3" fill="#FFFF33" stroke="#333333" stroke-width="2.4"/>
<rect x="574.1" y="362.60" width="33.5" height="31.3" fill="#A65628" stroke="#333333" stroke-width="2.4"/>
<rect x="574.1" y="397.70" width="33.5" height="31.3" fill="#F781BF" stroke="#333333" stroke-width="2.4"/>
<rect x="574.1" y="432.80" width="33.5" height="31.3" fill="#999999" stroke="#333333" stroke-width="2.4"/>
<rect x="574.1" y="467.90" width="33.5" height="31.3" fill="#F2F2F2" stroke="#333333" stroke-width="2.4"/>
</svg>
<div class="yl" style="top:41.8px">EF1</div>
<div class="yl" style="top:99.3px">UBC13</div>
<div class="yl" style="top:156.8px">TUB1</div>
<div class="yl" style="top:214.3px">SDHA</div>
<div class="yl" style="top:271.8px">RDN28</div>
<div class="yl" style="top:329.4px">RDN18</div>
<div class="yl" style="top:386.9px">RDN5.8</div>
<div class="yl" style="top:444.4px">PGK1</div>
<div class="yl" style="top:501.9px">GAPDH</div>
<div class="yl" style="top:559.4px">ACT1</div>
<div class="xl" style="left:75.6px">10</div>
<div class="xl" style="left:177.3px">15</div>
<div class="xl" style="left:279.1px">20</div>
<div class="xl" style="left:380.9px">25</div>
<div class="xl" style="left:482.6px">30</div>
<div class="ll" style="top:158.2px">ACT1</div>
<div class="ll" style="top:193.3px">GAPDH</div>
<div class="ll" style="top:228.4px">PGK1</div>
<div class="ll" style="top:263.5px">RDN5.8</div>
<div class="ll" style="top:298.6px">RDN18</div>
<div class="ll" style="top:333.7px">RDN28</div>
<div class="ll" style="top:368.8px">SDHA</div>
<div class="ll" style="top:403.9px">TUB1</div>
<div class="ll" style="top:439.0px">UBC13</div>
<div class="ll" style="top:474.1px">EF1</div>
</body></html>
